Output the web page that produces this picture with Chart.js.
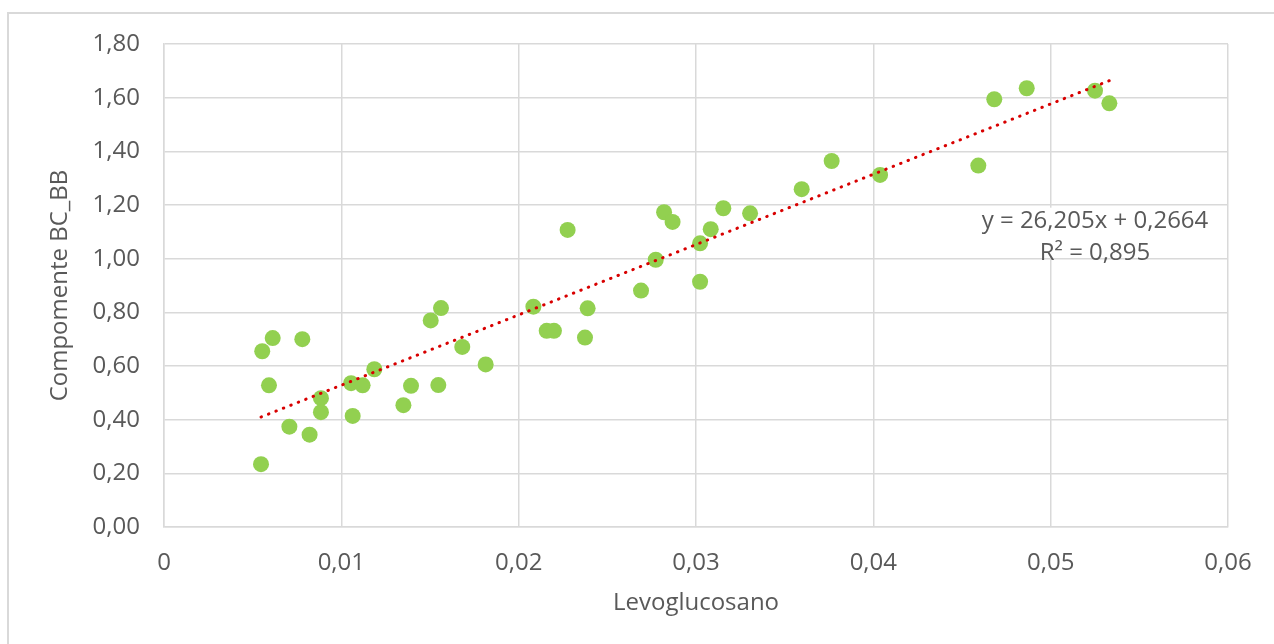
<!DOCTYPE html>
<html>
<head>
<meta charset="utf-8">
<script src="https://cdn.jsdelivr.net/npm/chart.js@4"></script>
<style>
html,body{margin:0;padding:0;background:#fff;}
#wrap{position:relative;width:1274px;height:644px;}
</style>
</head>
<body>
<div id="wrap"><canvas id="c" width="1274" height="644"></canvas></div>
<script>
// Levoglucosano values (x)
const levoglucosano = [
  0.00547, 0.00554, 0.00613, 0.00592, 0.00707, 0.00780, 0.00821, 0.00885, 0.00885, 0.01055,
  0.01120, 0.01064, 0.01186, 0.01350, 0.01393, 0.01504, 0.01562, 0.01547, 0.01682, 0.01814,
  0.02083, 0.02158, 0.02199, 0.02389, 0.02374, 0.02276, 0.02690, 0.02773, 0.02820, 0.02868,
  0.03023, 0.03023, 0.03083, 0.03154, 0.03305, 0.03596, 0.03765, 0.04038, 0.04592, 0.04682,
  0.04865, 0.05250, 0.05331
];
// Compomente BC_BB values (y)
const bcBB = [
  0.234, 0.655, 0.704, 0.528, 0.374, 0.700, 0.344, 0.480, 0.428, 0.536,
  0.528, 0.414, 0.588, 0.454, 0.526, 0.770, 0.816, 0.529, 0.671, 0.606,
  0.821, 0.731, 0.731, 0.815, 0.706, 1.107, 0.881, 0.996, 1.173, 1.137,
  0.914, 1.057, 1.110, 1.188, 1.169, 1.259, 1.364, 1.312, 1.347, 1.594,
  1.635, 1.626, 1.579
];
// Linear trendline coefficients shown on the chart
const trendSlope = 26.205;
const trendIntercept = 0.2664;
const trendLabel = ['y = 26,205x + 0,2664', 'R\u00B2 = 0,895'];

const xTickValues = [0, 0.01, 0.02, 0.03, 0.04, 0.05, 0.06];
const xTickLabels = ['0', '0,01', '0,02', '0,03', '0,04', '0,05', '0,06'];
const yTickValues = [0, 0.2, 0.4, 0.6, 0.8, 1.0, 1.2, 1.4, 1.6, 1.8];
const yTickLabels = ['0,00', '0,20', '0,40', '0,60', '0,80', '1,00', '1,20', '1,40', '1,60', '1,80'];

const xTitle = 'Levoglucosano';
const yTitle = 'Compomente BC_BB';

const FONT = '"Open Sans", sans-serif';
const TXT = '#595959';
const GRID = '#d9d9d9';

const points = levoglucosano.map((x, i) => ({x: x, y: bcBB[i]}));
const xMin = Math.min(...levoglucosano), xMax = Math.max(...levoglucosano);
const trend = [xMin, xMax].map(x => ({x: x, y: trendSlope * x + trendIntercept}));

const framePlugin = {
  id: 'frame',
  beforeDraw(chart) {
    const ctx = chart.ctx;
    ctx.save();
    ctx.fillStyle = '#fff';
    ctx.fillRect(0, 0, chart.width, chart.height);
    ctx.strokeStyle = GRID;
    ctx.lineWidth = 2;
    ctx.strokeRect(8, 13, chart.width + 20, chart.height + 20);
    ctx.restore();
  }
};

const labelPlugin = {
  id: 'trendLabel',
  beforeDatasetsDraw(chart) {
    const ctx = chart.ctx;
    const xs = chart.scales.x, ys = chart.scales.y;
    const left = xs.getPixelForValue(0.04545);
    const right = chart.chartArea.right - 2;
    const top = ys.getPixelForValue(1.19);
    const bottom = ys.getPixelForValue(1.005);
    ctx.save();
    ctx.fillStyle = '#fff';
    ctx.fillRect(left, top, right - left, bottom - top);
    ctx.fillStyle = TXT;
    ctx.font = '24px ' + FONT;
    ctx.textAlign = 'center';
    ctx.textBaseline = 'middle';
    const cx = (left + right) / 2 - 3;
    ctx.fillText(trendLabel[0], cx, top + 13);
    ctx.fillText(trendLabel[1], cx, top + 45);
    ctx.restore();
  }
};

new Chart(document.getElementById('c'), {
  type: 'scatter',
  data: {
    datasets: [
      {
        type: 'line',
        data: trend,
        borderColor: '#d80000',
        borderWidth: 3,
        borderDash: [0.5, 7.5],
        borderCapStyle: 'round',
        pointRadius: 0,
        fill: false,
        order: 0
      },
      {
        data: points,
        backgroundColor: '#92d050',
        borderColor: '#92d050',
        borderWidth: 0,
        pointRadius: 8,
        order: 1
      }
    ]
  },
  options: {
    responsive: false,
    animation: false,
    devicePixelRatio: 1,
    layout: {padding: {top: 44, right: 46, left: 0, bottom: 0}},
    plugins: {legend: {display: false}, tooltip: {enabled: false}},
    scales: {
      x: {
        type: 'linear',
        min: 0, max: 0.06,
        afterBuildTicks: s => { s.ticks = xTickValues.map(v => ({value: v})); },
        afterFit: s => { s.height = 117; },
        grid: {color: GRID, lineWidth: 1.5, drawTicks: false},
        border: {color: GRID, width: 1.5},
        ticks: {
          padding: 22,
          color: TXT,
          font: {family: FONT, size: 24},
          maxRotation: 0,
          callback: (v, i) => xTickLabels[i]
        },
        title: {
          display: true, text: xTitle, color: TXT,
          font: {family: FONT, size: 24},
          padding: {top: 0, bottom: 26}
        }
      },
      y: {
        type: 'linear',
        min: 0, max: 1.8,
        afterBuildTicks: s => { s.ticks = yTickValues.map(v => ({value: v})); },
        afterFit: s => { s.width = 164; },
        grid: {color: GRID, lineWidth: 1.5, drawTicks: false},
        border: {color: GRID, width: 1.5},
        ticks: {
          padding: 24,
          color: TXT,
          font: {family: FONT, size: 24},
          callback: (v, i) => yTickLabels[i]
        },
        title: {
          display: true, text: yTitle, color: TXT,
          font: {family: FONT, size: 24},
          padding: {top: 46, bottom: 0}
        }
      }
    }
  },
  plugins: [framePlugin, labelPlugin]
});
</script>
</body>
</html>
